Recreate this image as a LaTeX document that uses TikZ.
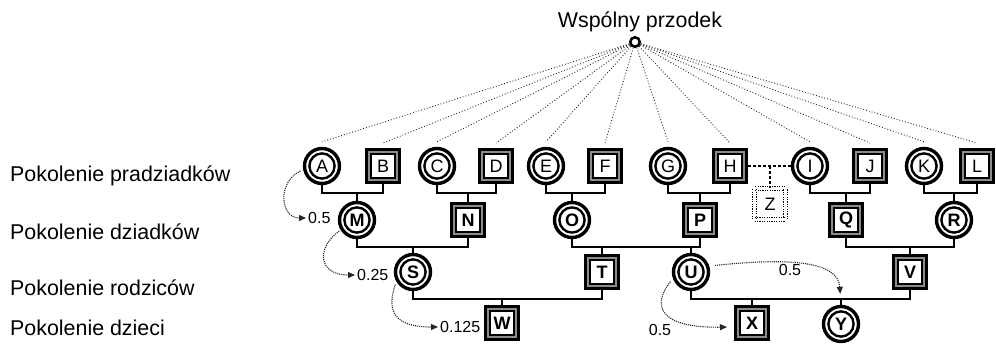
\documentclass[tikz,border=0pt]{standalone}
\usepackage{fontspec}
\setmainfont{Liberation Sans}
\usetikzlibrary{arrows.meta}
\begin{document}
\begin{tikzpicture}[x=1pt,y=-1pt,
  % female: thick outer ring with a thinner ring inside
  fem/.style={circle, draw, line width=3.4pt, minimum size=35pt, inner sep=0pt,
    path picture={\draw[line width=2.4pt] (path picture bounding box.center) circle[radius=12.6pt];}},
  % male: thick outer frame, grey rim and a thinner inner frame
  mal/.style={rectangle, draw, line width=3pt, minimum size=33pt, inner sep=0pt,
    path picture={
      \draw[black!45, line width=1.6pt]
        ([shift={(-14.2pt,-14.2pt)}]path picture bounding box.center) rectangle
        ([shift={(14.2pt,14.2pt)}]path picture bounding box.center);
      \draw[line width=2pt]
        ([shift={(-12.4pt,-12.4pt)}]path picture bounding box.center) rectangle
        ([shift={(12.4pt,12.4pt)}]path picture bounding box.center);}},
  top/.style={font=\fontsize{18}{18}\selectfont},
  low/.style={font=\fontsize{18}{18}\selectfont\bfseries},
  ghost/.style={rectangle, draw, line width=1pt, double, double distance=2.6pt,
    dash pattern=on 1.2pt off 1.2pt, minimum size=31pt, inner sep=0pt,
    font=\fontsize{18}{18}\selectfont},
  gen/.style={anchor=base west, inner sep=0pt, font=\fontsize{21.4}{24}\selectfont},
  num/.style={anchor=west, inner sep=0pt, font=\fontsize{16}{16}\selectfont},
  kin/.style={line width=2.6pt},
  fan/.style={dotted, line width=0.9pt, black!85},
  prob/.style={densely dotted, line width=1.1pt, black!85, -{Triangle[length=7pt,width=6pt]}},
  hitch/.style={line width=2.6pt, dash pattern=on 2.6pt off 2.4pt},
]
\useasboundingbox (0,0) rectangle (996,343);

% generation labels
\node[gen] (g1) at (10,181.5) {Pokolenie pradziadków};
\node[gen] (g2) at (10,239.5) {Pokolenie dziadków};
\node[gen] (g3) at (10,295) {Pokolenie rodziców};
\node[gen] (g4) at (10,335) {Pokolenie dzieci};

% common ancestor
\node[anchor=base, inner sep=0pt, font=\fontsize{21.4}{24}\selectfont] (title) at (640,27) {Wspólny przodek};
\node[circle, draw, line width=2.5pt, minimum size=9.5pt, inner sep=0pt] (anc) at (635,42) {};

% great-grandparents
\node[fem,top] (A) at (322,166) {A};
\node[mal,top] (B) at (383,166) {B};
\node[fem,top] (C) at (437,166) {C};
\node[mal,top] (D) at (496,166) {D};
\node[fem,top] (E) at (546,166) {E};
\node[mal,top] (F) at (605,166) {F};
\node[fem,top] (G) at (668,166) {G};
\node[mal,top] (H) at (730,166) {H};
\node[fem,top] (I) at (810,166) {I};
\node[mal,top] (J) at (870,166) {J};
\node[fem,top] (K) at (924,166) {K};
\node[mal,top] (L) at (977,166) {L};

% grandparents
\node[fem,low] (M) at (357,220) {M};
\node[mal,low] (N) at (468,220) {N};
\node[fem,low] (O) at (572,220) {O};
\node[mal,low] (P) at (700,220) {P};
\node[mal,low] (Q) at (846,220) {Q};
\node[fem,low] (R) at (954,220) {R};

% parents
\node[fem,low] (S) at (413,272) {S};
\node[mal,low] (T) at (602,272) {T};
\node[fem,low] (U) at (691,272) {U};
\node[mal,low] (V) at (910,272) {V};

% children
\node[mal,low] (W) at (502,323) {W};
\node[mal,low] (X) at (752,323) {X};
\node[fem,low] (Y) at (841,324) {Y};

% second partner of H
\node[ghost] (Z) at (770,204) {Z};
\coordinate (zj) at (770,166);
\draw[hitch] (H.east) -- (I.west);
\draw[hitch] (zj) -- (Z.north);

% lines of descent from the common ancestor
\foreach \n in {A,B,C,D,E,F,G,H,I,J,K,L}
  \draw[fan] (anc) -- ([yshift=5pt]\n.north);

% couples and their children
\foreach \p/\q/\c in {A/B/M, C/D/N, E/F/O, G/H/P, I/J/Q, K/L/R} {
  \draw[kin] (\p.south) -- (\p.south |- 0,193) -- (\q.south |- 0,193) -- (\q.south);
  \draw[kin] (\c.north) -- (\c.north |- 0,193);
}
\foreach \p/\q in {M/N, O/P, Q/R}
  \draw[kin] (\p.south) -- (\p.south |- 0,247) -- (\q.south |- 0,247) -- (\q.south);
\foreach \c in {S,T,U,V}
  \draw[kin] (\c.north) -- (\c.north |- 0,247);
\foreach \p/\q in {S/T, U/V}
  \draw[kin] (\p.south) -- (\p.south |- 0,299) -- (\q.south |- 0,299) -- (\q.south);
\foreach \c in {W,X,Y}
  \draw[kin] (\c.north) -- (\c.north |- 0,299);

% kinship coefficients
\node[num] (p1) at (308,218) {0.5};
\node[num] (p2) at (357,275) {0.25};
\node[num] (p3) at (440,327) {0.125};
\node[num, anchor=center] (p4) at (790,270) {0.5};
\node[num, anchor=center] (p5) at (660,330) {0.5};

\draw[prob, shorten >=2pt] ([xshift=-3pt]A.195) .. controls (277,182) and (280,218) .. (p1.west);
\draw[prob, shorten >=2pt] ([xshift=-2pt]M.215) .. controls (316,248) and (318,275) .. (p2.west);
\draw[prob, shorten >=2pt] ([xshift=-3pt]S.220) .. controls (386,312) and (395,327) .. (p3.west);
\draw[prob, shorten >=11pt] ([xshift=6pt]U.20) .. controls (785,258) and (838,260) .. (Y.north);
\draw[prob, shorten >=7pt] ([xshift=-4pt]U.210) .. controls (652,305) and (658,328) .. ([yshift=-4pt]X.west);
\end{tikzpicture}
\end{document}
